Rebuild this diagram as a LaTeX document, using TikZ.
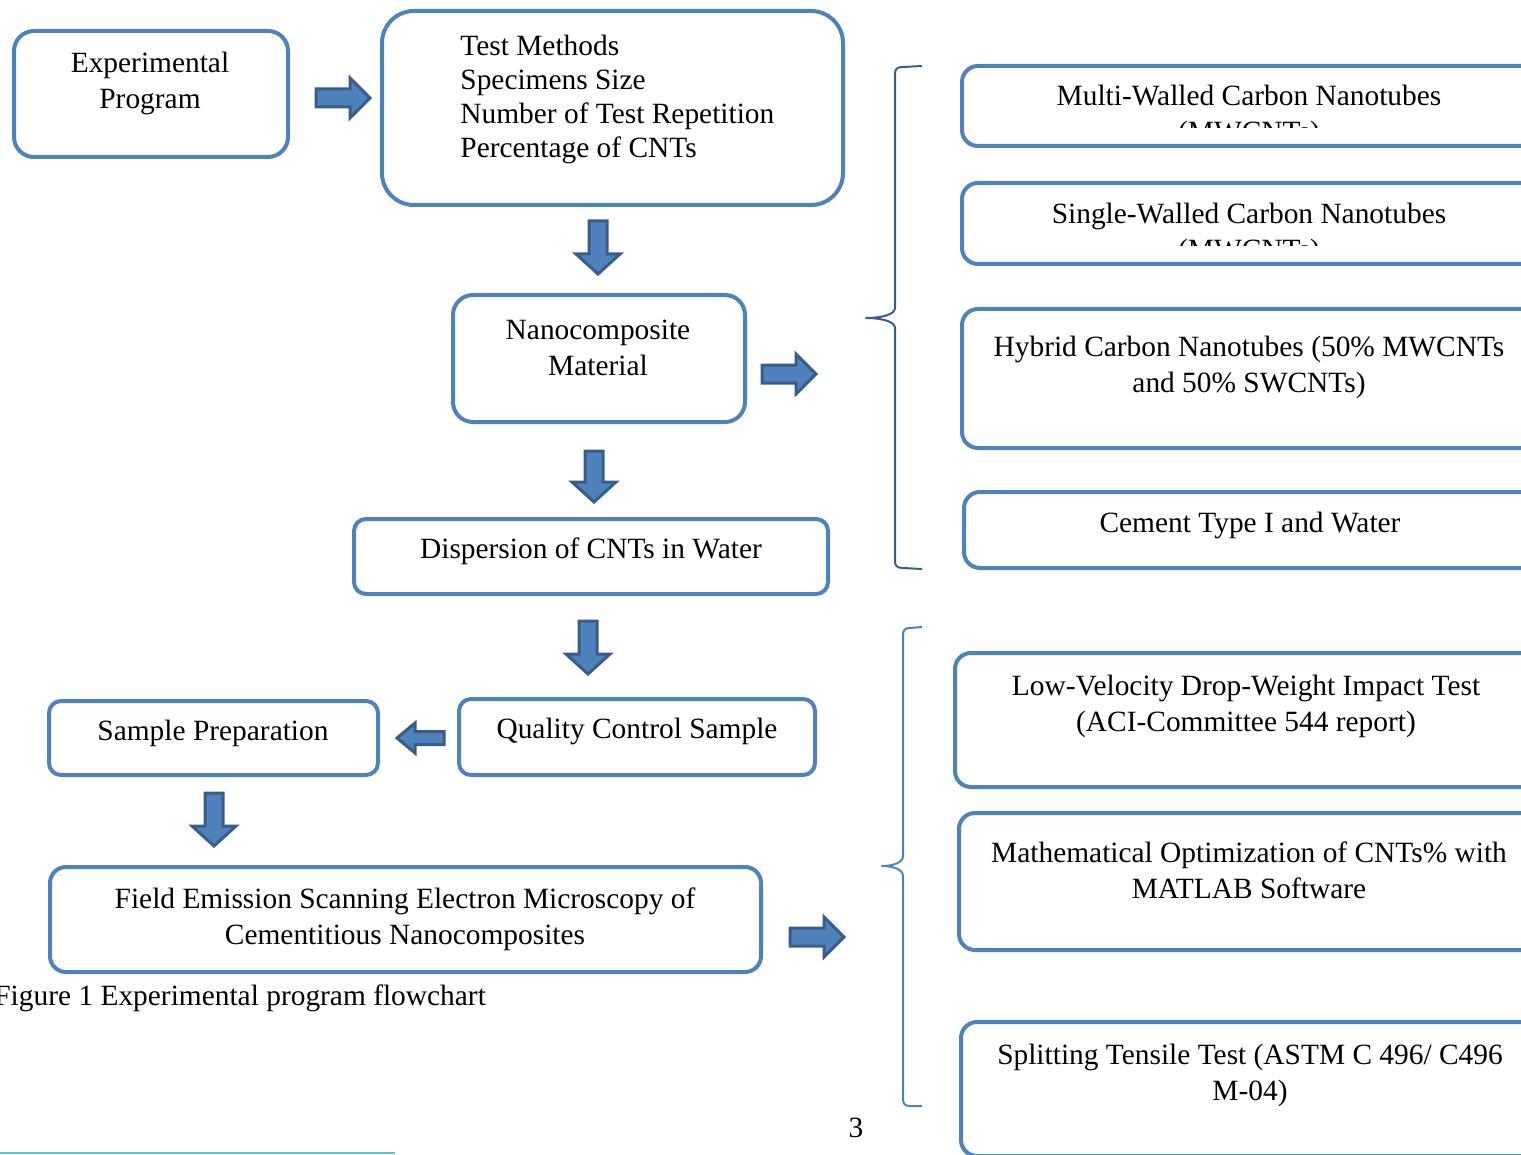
\documentclass[tikz,border=0pt]{standalone}
\usepackage{fontspec}
\setmainfont{Liberation Serif}
\usetikzlibrary{positioning}
\definecolor{boxBlue}{HTML}{4F81BD}
\definecolor{arrowEdge}{HTML}{385D8A}
\definecolor{braceDark}{HTML}{385D8A}
\definecolor{ruleCyan}{HTML}{5BBEE5}

\tikzset{
  box/.style={draw=boxBlue, line width=2pt, rounded corners=8pt, inner sep=0pt},
  txt/.style={font=\fontsize{14.7pt}{18pt}\selectfont, align=center, inner sep=0pt},
  brace/.style={line width=1pt, line join=round},
  arrowline/.style={draw=arrowEdge, fill=boxBlue, line width=1.5pt, line join=miter},
  pics/blockarr/.style args={#1/#2/#3/#4}{code={
    \draw[arrowline] (0,{-#2/2}) -- ({#1-#4},{-#2/2}) -- ({#1-#4},{-#3/2}) -- (#1,0)
      -- ({#1-#4},{#3/2}) -- ({#1-#4},{#2/2}) -- (0,{#2/2}) -- cycle;
  }}
}

\begin{document}
\begin{tikzpicture}[x=0.5pt, y=-0.5pt]
  \useasboundingbox (0,0) rectangle (1521,1155);
  \clip (0,0) rectangle (1521,1155);

  % left column
  \node[box, rounded corners=10pt, minimum width=137pt, minimum height=63pt] (exp) at (151,94) {};
  \node[txt] (expT) at (150,83) {Experimental\\Program};
  \node[box, rounded corners=16pt, minimum width=230.5pt, minimum height=97pt] (tm) at (612.5,108) {};
  \node[txt, font=\fontsize{14.7pt}{17pt}\selectfont, align=left, anchor=west] (tmT) at (460,99) {Test Methods\\Specimens Size\\Number of Test Repetition\\Percentage of CNTs};
  \node[box, rounded corners=10pt, minimum width=146pt, minimum height=63.5pt] (nano) at (599,358.5) {};
  \node[txt] (nanoT) at (598,348) {Nanocomposite\\Material};
  \node[box, rounded corners=6pt, minimum width=237pt, minimum height=37.5pt] (disp) at (591,556.5) {};
  \node[txt] (dispT) at (591,551) {Dispersion of CNTs in Water};
  \node[box, rounded corners=6pt, minimum width=178pt, minimum height=38pt] (qc) at (637,737) {};
  \node[txt] (qcT) at (637,731) {Quality Control Sample};
  \node[box, rounded corners=6pt, minimum width=164.5pt, minimum height=37pt] (sp) at (213.5,738) {};
  \node[txt] (spT) at (213,733) {Sample Preparation};
  \node[box, minimum width=355.5pt, minimum height=52.5pt] (fe) at (405.5,919.5) {};
  \node[txt] (feT) at (405,919) {Field Emission Scanning Electron Microscopy of\\Cementitious Nanocomposites};

  % block arrows
  \pic (arr1) at (316,98) {blockarr=54/18/40/20};
  \pic[rotate=-90] (arr2) at (598,221) {blockarr=53/18/44/20};
  \pic (arr3) at (762,374) {blockarr=54/18/40/20};
  \pic[rotate=-90] (arr4) at (594,451) {blockarr=51/18/44/20};
  \pic[rotate=-90] (arr5) at (588,621) {blockarr=53/18/44/20};
  \pic[rotate=180] (arr6) at (444,738) {blockarr=47/13/30/18};
  \pic[rotate=-90] (arr7) at (214,793) {blockarr=53/18/44/20};
  \pic (arr8) at (790,937) {blockarr=54/18/40/20};

  % braces
  \draw[brace, draw=braceDark] (922,66) -- (903,67) .. controls (897,67) and (895,69) .. (895,74)
    -- (895,308) .. controls (895,315) and (880,318) .. (866,318)
    .. controls (880,318) and (895,321) .. (895,328)
    -- (895,561) .. controls (895,566) and (897,568) .. (903,568) -- (922,569);
  \draw[brace, draw=boxBlue] (922,627) -- (910,628) .. controls (905,628) and (903,630) .. (903,635)
    -- (903,856) .. controls (903,863) and (892,866) .. (882,866)
    .. controls (892,866) and (903,869) .. (903,876)
    -- (903,1099) .. controls (903,1104) and (905,1106) .. (910,1106) -- (922,1106);

  % right column
  \node[box, minimum width=288pt, minimum height=40pt] (mw) at (1250,106) {};
  \begin{scope}
    \clip (960,64) rectangle (1540,128);
    \node[txt] (mwT) at (1249,116) {Multi-Walled Carbon Nanotubes\\(MWCNTs)};
  \end{scope}
  \node[box, minimum width=288pt, minimum height=40.5pt] (sw) at (1250,223.5) {};
  \begin{scope}
    \clip (960,181) rectangle (1540,246);
    \node[txt] (swT) at (1249,234) {Single-Walled Carbon Nanotubes\\(MWCNTs)};
  \end{scope}
  \node[box, minimum width=288pt, minimum height=69.5pt] (hy) at (1250,378.5) {};
  \node[txt] (hyT) at (1249,367.5) {Hybrid Carbon Nanotubes (50\% MWCNTs\\and 50\% SWCNTs)};
  \node[box, minimum width=287pt, minimum height=38pt] (ce) at (1251,530) {};
  \node[txt] (ceT) at (1250,525) {Cement Type I and Water};
  \node[box, minimum width=292.5pt, minimum height=67pt] (lv) at (1247.5,720) {};
  \node[txt] (lvT) at (1246,706) {Low-Velocity Drop-Weight Impact Test\\(ACI-Committee 544 report)};
  \node[box, minimum width=290.5pt, minimum height=68.5pt] (mo) at (1249.5,881.5) {};
  \node[txt] (moT) at (1249,870) {Mathematical Optimization of CNTs\% with\\MATLAB Software};
  \node[box, minimum width=289.5pt, minimum height=67pt] (st) at (1250.5,1089) {};
  \node[txt] (stT) at (1250,1075) {Splitting Tensile Test (ASTM C 496/ C496\\M-04)};

  % caption, page number, rule
  \node[txt, anchor=west] (cap) at (-6,998) {Figure 1 Experimental program flowchart};
  \node[txt] (page) at (856,1128) {3};
  \draw[ruleCyan, line width=1pt] (0,1153) -- (395,1153);
\end{tikzpicture}
\end{document}
